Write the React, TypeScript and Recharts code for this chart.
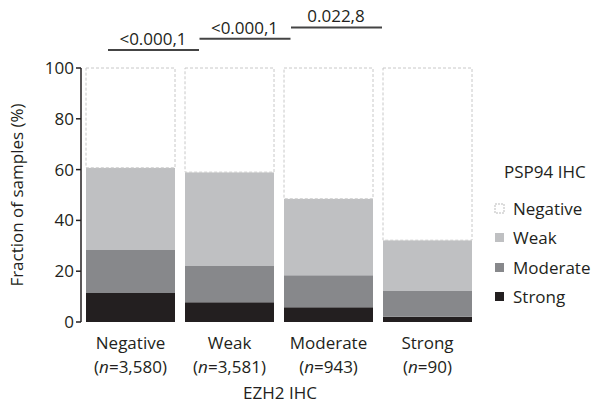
import { BarChart, Bar, XAxis, YAxis, Legend } from "recharts";

const categories = ["Negative", "Weak", "Moderate", "Strong"];
const counts = ["3,580", "3,581", "943", "90"];
const strong = [11.4, 7.8, 5.8, 2.1];
const moderate = [16.9, 14.2, 12.6, 10.1];
const weak = [32.4, 37.0, 30.1, 20.0];
const negative = [39.3, 41.0, 51.5, 67.8];
const yTicks = [0, 20, 40, 60, 80, 100];
const pValues = ["<0.000,1", "<0.000,1", "0.022,8"];

const font = "'Open Sans', 'Noto Sans', sans-serif";
const ink = "#231f20";

const data = categories.map((c, i) => ({
  name: c,
  n: counts[i],
  strong: strong[i],
  moderate: moderate[i],
  weak: weak[i],
  negative: negative[i],
}));

const legendItems = [
  { label: "Negative", fill: "#fff", stroke: "#bbb", dash: "2 1" },
  { label: "Weak", fill: "#bfc0c2" },
  { label: "Moderate", fill: "#87888b" },
  { label: "Strong", fill: ink },
];

function XTick(props: any) {
  const { x, y, payload, index } = props;
  return (
    <g transform={`translate(${x},${y})`}>
      <text textAnchor="middle" y={19} fontSize={17} fill={ink} fontFamily={font}>
        {payload.value}
      </text>
      <text textAnchor="middle" y={43} fontSize={17} fill={ink} fontFamily={font}>
        (<tspan fontStyle="italic">n</tspan>={counts[index]})
      </text>
    </g>
  );
}

function LegendBox() {
  return (
    <div style={{ fontFamily: font, color: ink, fontSize: 17, lineHeight: "20px" }}>
      <div style={{ marginLeft: 10, marginBottom: 12 }}>PSP94 IHC</div>
      {legendItems.map((it) => (
        <div key={it.label} style={{ display: "flex", alignItems: "center", height: 29.5 }}>
          <svg width={12} height={12} style={{ marginRight: 7 }}>
            <rect
              x={1}
              y={1}
              width={9}
              height={9}
              fill={it.fill}
              stroke={it.stroke || "none"}
              strokeDasharray={it.dash}
            />
          </svg>
          <span>{it.label}</span>
        </div>
      ))}
    </div>
  );
}

export default function App() {
  return (
    <div style={{ position: "absolute", left: 0, top: 0, width: 593, height: 407, background: "#fff" }}>
      <BarChart
        width={593}
        height={407}
        data={data}
        margin={{ top: 68, right: 116, bottom: 0, left: 0 }}
        barCategoryGap={5}
      >
        <XAxis
          dataKey="name"
          height={85}
          axisLine={false}
          tickLine={false}
          tick={<XTick />}
          interval={0}
        />
        <YAxis
          width={81}
          domain={[0, 100]}
          ticks={yTicks}
          axisLine={{ stroke: ink, strokeWidth: 1.5 }}
          tickLine={{ stroke: ink, strokeWidth: 1.5 }}
          tickSize={5}
          tick={{ fill: ink, fontSize: 17, fontFamily: font }}
        />
        <Legend
          layout="horizontal"
          align="center"
          verticalAlign="middle"
          content={<LegendBox />}
          wrapperStyle={{ left: 494, top: 162, width: 99 }}
        />
        <Bar dataKey="strong" stackId="a" fill={ink} isAnimationActive={false} />
        <Bar dataKey="moderate" stackId="a" fill="#87888b" isAnimationActive={false} />
        <Bar dataKey="weak" stackId="a" fill="#bfc0c2" isAnimationActive={false} />
        <Bar
          dataKey="negative"
          stackId="a"
          fill="#fff"
          stroke="#c8c8c8"
          strokeDasharray="3 2"
          isAnimationActive={false}
        />
      </BarChart>
      <svg
        width={593}
        height={407}
        style={{ position: "absolute", left: 0, top: 0, pointerEvents: "none" }}
        fontFamily={font}
      >
        {pValues.map((p, i) => {
          const x1 = 108 + i * 91.5;
          const y = 50 - i * 11.3;
          return (
            <g key={i}>
              <line x1={x1} x2={x1 + 91} y1={y} y2={y} stroke="#444" strokeWidth={2} />
              <text x={x1 + 45} y={y - 5} textAnchor="middle" fontSize={17} fill={ink}>
                {p}
              </text>
            </g>
          );
        })}
        <text
          transform="translate(23,195) rotate(-90)"
          textAnchor="middle"
          fontSize={17}
          fill={ink}
        >
          Fraction of samples (%)
        </text>
        <text x={280} y={399} textAnchor="middle" fontSize={17} fill={ink}>
          EZH2 IHC
        </text>
      </svg>
    </div>
  );
}
